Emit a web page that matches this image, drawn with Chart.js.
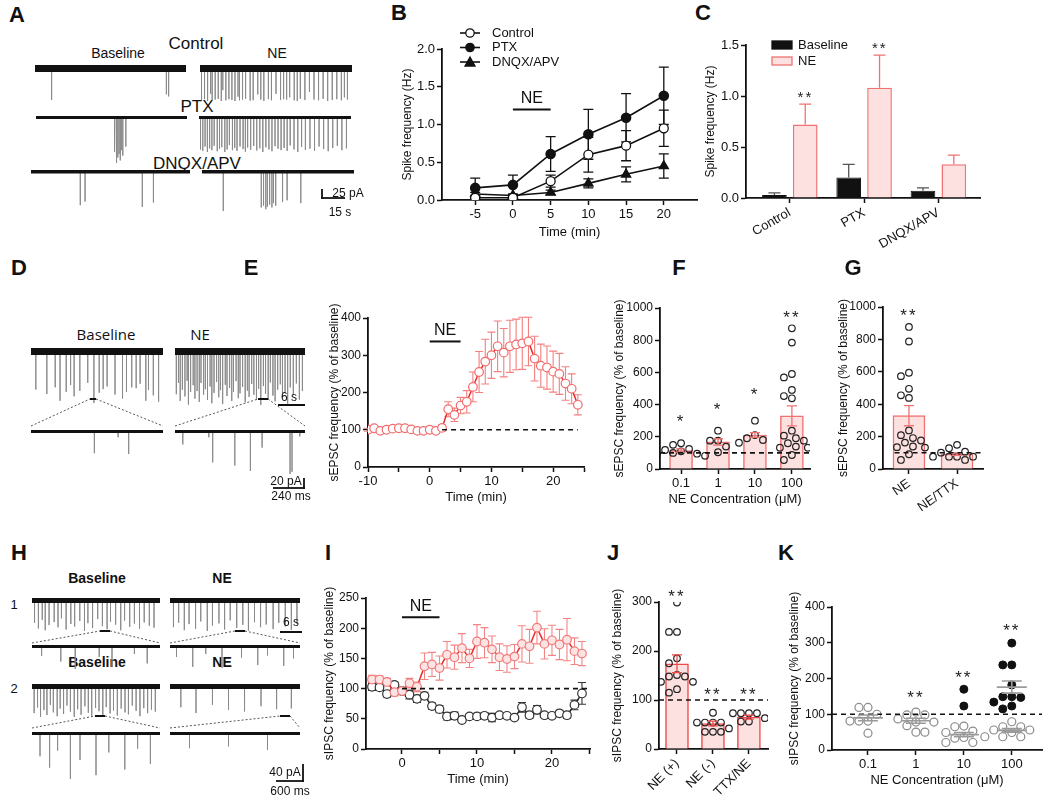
<!DOCTYPE html>
<html>
<head>
<meta charset="utf-8">
<title>NE effects</title>
<script src="https://cdn.jsdelivr.net/npm/chart.js@4.4.1/dist/chart.umd.min.js"></script>
<style>
  body { margin: 0; background: #fff; }
  #fig { position: relative; width: 1050px; height: 800px; overflow: hidden; background: #fff;
         font-family: 'Liberation Sans', Arial, sans-serif; color: #111; }
  #fig canvas { position: absolute; }
  .t { position: absolute; white-space: nowrap; transform: translate(-50%, -50%); line-height: 1; }
  #ov { position: absolute; left: 0; top: 0; z-index: 5; }
</style>
</head>
<body>
<div id="fig"><svg id="ov" width="1050" height="800"></svg></div>
<script>
Chart.defaults.font.family = "'Liberation Sans', Arial, sans-serif";
Chart.defaults.font.size = 13;
Chart.defaults.color = '#111';

// ---------- A: example traces (spike time s, amplitude pA) ----------
const aCtrlBaseT = [11, 87, 88.5];
const aCtrlBaseA = [88, 72, 78];
const aCtrlNeT = [1, 3, 5, 7, 8, 10, 12, 14, 15, 17, 19, 21, 23, 25, 26, 28, 30, 33, 35, 38, 40, 42, 45, 47, 50, 53, 55, 57, 59, 62, 64, 66, 69, 72, 75, 78, 81, 84, 87, 90, 93, 95, 97];
const aCtrlNeA = [88, 85, 90, 70, 88, 86, 84, 90, 60, 88, 85, 87, 90, 78, 88, 86, 84, 89, 88, 72, 86, 90, 85, 88, 70, 87, 85, 86, 80, 88, 90, 84, 87, 65, 86, 88, 84, 90, 87, 85, 88, 80, 86];
const aPtxBaseT = [52, 53, 53.6, 54.2, 55, 55.8, 56.5, 57.5, 59.5];
const aPtxBaseA = [95, 120, 125, 110, 100, 118, 90, 105, 80];
const aPtxNeT = [1, 2.5, 4, 5.5, 7, 8.5, 10, 12, 13.5, 15, 17, 18.5, 20, 22, 23.5, 25, 27, 29, 30.5, 32, 34, 36, 38, 40, 42, 44, 46, 48, 50, 52, 54, 56, 58, 60, 62.5, 65, 67.5, 70, 73, 76, 79, 82, 85, 88, 91, 94, 97];
const aPtxNeA = [88, 92, 80, 95, 85, 90, 78, 93, 86, 82, 95, 88, 76, 90, 84, 92, 80, 87, 94, 83, 89, 78, 91, 85, 95, 82, 88, 93, 79, 86, 90, 84, 92, 77, 88, 95, 81, 89, 86, 92, 80, 87, 93, 84, 78, 90, 85];
const aDnqxBaseT = [31, 34, 70, 77];
const aDnqxBaseA = [92, 82, 97, 85];
const aDnqxNeT = [14, 39, 40.5, 42, 43, 44.5, 46, 47, 48.5, 53, 56, 65];
const aDnqxNeA = [110, 100, 95, 105, 98, 92, 100, 88, 95, 85, 80, 88];

// ---------- B: spike frequency time course ----------
const bTime = [-5, 0, 5, 10, 15, 20];
const bControl = [0.03, 0.03, 0.25, 0.6, 0.72, 0.95];
const bControlSem = [0.02, 0.02, 0.08, 0.23, 0.2, 0.24];
const bPtx = [0.16, 0.2, 0.61, 0.87, 1.09, 1.38];
const bPtxSem = [0.13, 0.13, 0.23, 0.33, 0.32, 0.38];
const bDnqx = [0.08, 0.06, 0.1, 0.22, 0.34, 0.45];
const bDnqxSem = [0.02, 0.02, 0.03, 0.06, 0.1, 0.16];

// ---------- C: spike frequency bars ----------
const cGroups = ['Control', 'PTX', 'DNQX/APV'];
const cBaseline = [0.03, 0.2, 0.07];
const cBaselineSem = [0.02, 0.13, 0.03];
const cNE = [0.72, 1.08, 0.33];
const cNESem = [0.2, 0.32, 0.09];
const cStars = ['**', '**', ''];

// ---------- D: sEPSC traces ----------
const dBaseT = [1.1, 3.6, 5.5, 6.6, 8.0, 9.0, 9.8, 11.1, 12.9, 14.3, 15.5, 16.4, 17.3, 19.1, 20.8, 21.7, 22.9, 23.9, 24.8, 26.1, 26.7, 27.8, 29.0];
const dBaseA = [85, 95, 80, 110, 90, 75, 100, 88, 70, 115, 92, 84, 78, 96, 105, 90, 80, 82, 72, 110, 86, 98, 112];
const dNeT = [0.3, 0.8, 1.2, 1.7, 2.3, 2.8, 3.1, 3.6, 4.2, 4.6, 5.1, 5.6, 6.0, 6.6, 7.0, 7.5, 8.1, 8.5, 9.0, 9.6, 10.1, 10.5, 11.0, 11.6, 12.0, 12.6, 13.1, 13.5, 14.1, 14.6, 15.0, 15.6, 16.2, 16.7, 17.1, 17.7, 18.2, 18.8, 19.3, 19.8, 20.4, 20.9, 21.5, 22.0, 22.6, 23.1, 23.7, 24.3, 24.8, 25.4, 26.0, 26.6, 27.3, 28.0, 28.7, 29.4];
const dNeA = [95, 70, 110, 85, 100, 65, 118, 90, 75, 105, 88, 112, 70, 96, 84, 108, 78, 115, 92, 68, 102, 86, 117, 74, 99, 81, 110, 90, 66, 104, 93, 79, 113, 87, 101, 72, 96, 108, 83, 119, 77, 94, 106, 69, 98, 111, 85, 73, 103, 90, 116, 80, 97, 71, 107, 88];
const dBaseZoomT = [0.48, 0.66, 0.74];
const dBaseZoomA = [49, 13, 51];
const dNeZoomT = [0.06, 0.26, 0.29, 0.46, 0.58, 0.67, 0.885, 0.9, 0.96];
const dNeZoomA = [29, 13, 69, 76, 88, 36, 95, 90, 11];

// ---------- E: sEPSC time course ----------
const eTime = [-10, -9, -8, -7, -6, -5, -4, -3, -2, -1, 0, 1, 2, 3, 4, 5, 6, 7, 8, 9, 10, 11, 12, 13, 14, 15, 16, 17, 18, 19, 20, 21, 22, 23, 24];
const eFreq = [100, 104, 97, 100, 103, 104, 104, 101, 97, 97, 100, 97, 105, 155, 140, 165, 175, 215, 255, 283, 300, 324, 307, 324, 329, 332, 337, 291, 272, 267, 256, 250, 224, 210, 167];
const eSem = [4, 5, 4, 4, 5, 4, 4, 4, 4, 4, 4, 4, 8, 20, 18, 22, 30, 40, 55, 60, 62, 68, 65, 70, 68, 70, 65, 60, 58, 58, 55, 55, 45, 40, 27];

// ---------- F: sEPSC vs NE concentration ----------
const fConc = ['0.1', '1', '10', '100'];
const fMean = [115, 168, 211, 330];
const fSem = [10, 20, 15, 62];
const fCells = [
  [160, 150, 125, 118, 110, 100, 95, 88, 82],
  [238, 176, 176, 139, 104],
  [300, 211, 191, 180, 163],
  [874, 785, 590, 569, 491, 453, 439, 238, 207, 191, 176, 160, 139, 132, 132, 87, 56]
];
const fStars = ['*', '*', '*', '**'];
const fStarY = [323, 397, 490, 968];

// ---------- G: NE vs NE/TTX ----------
const gGroups = ['NE', 'NE/TTX'];
const gMean = [329, 92];
const gSem = [62, 8];
const gCells = [
  [877, 787, 594, 573, 495, 455, 439, 238, 209, 191, 176, 163, 139, 135, 132, 91, 56],
  [149, 128, 107, 101, 76, 76, 76, 76, 56]
];
const gStars = ['**', ''];
const gStarY = [975, 0];

// ---------- H: sIPSC traces ----------
const h1BaseT = [0.6, 1.5, 2.4, 3.1, 4.0, 5.2, 6.1, 6.9, 8.0, 9.1, 10.0, 11.2, 12.3, 13.1, 14.2, 15.4, 16.5, 17.6, 18.4, 19.6, 20.8, 21.7, 22.9, 24.0, 25.2, 26.3, 27.5, 28.6];
const h1BaseA = [60, 75, 52, 80, 66, 58, 72, 48, 78, 63, 70, 55, 82, 61, 74, 50, 69, 77, 57, 65, 80, 54, 71, 62, 76, 59, 68, 73];
const h1NeT = [0.8, 2.0, 3.3, 4.4, 5.9, 7.1, 8.6, 9.8, 11.3, 12.6, 13.9, 15.4, 16.8, 18.1, 19.5, 20.9, 22.2, 23.8, 25.1, 26.6, 28.0, 29.3];
const h1NeA = [70, 58, 78, 62, 74, 55, 80, 66, 60, 76, 52, 72, 64, 79, 57, 70, 63, 75, 59, 68, 77, 61];
const h1BaseZoomT = [0.3, 0.9, 1.35, 2.1, 2.5, 3.2, 3.6];
const h1BaseZoomA = [25, 40, 60, 28, 55, 20, 45];
const h1NeZoomT = [0.2, 0.7, 1.1, 1.6, 2.2, 2.7, 3.0, 3.5, 3.8];
const h1NeZoomA = [28, 55, 20, 58, 30, 50, 24, 52, 32];
const h2BaseT = [0.5, 1.3, 2.0, 2.8, 3.5, 4.3, 5.0, 5.9, 6.6, 7.4, 8.2, 9.0, 9.9, 10.7, 11.5, 12.4, 13.2, 14.0, 14.9, 15.7, 16.6, 17.4, 18.3, 19.1, 20.0, 20.9, 21.8, 22.6, 23.5, 24.4, 25.3, 26.2, 27.1, 28.0, 28.9];
const h2BaseA = [70, 55, 80, 62, 75, 48, 68, 78, 58, 72, 50, 66, 80, 60, 74, 52, 69, 77, 56, 65, 79, 54, 71, 63, 76, 58, 68, 73, 50, 64, 78, 57, 70, 61, 66];
const h2NeT = [2.5, 6.0, 9.8, 13.5, 17.2, 21.0, 24.6, 28.0];
const h2NeA = [55, 70, 48, 62, 66, 52, 60, 58];
const h2BaseZoomT = [0.25, 0.55, 0.8, 1.2, 1.5, 2.0, 2.4, 2.9, 3.3, 3.7];
const h2BaseZoomA = [60, 90, 45, 120, 70, 110, 50, 95, 40, 80];
const h2NeZoomT = [0.6, 1.8, 3.0];
const h2NeZoomA = [40, 35, 45];

// ---------- I: sIPSC time course ----------
const iTime = [-4, -3, -2, -1, 0, 1, 2, 3, 4, 5, 6, 7, 8, 9, 10, 11, 12, 13, 14, 15, 16, 17, 18, 19, 20, 21, 22, 23, 24];
const iUp = [115, 115, 111, 94, 96, 109, 103, 137, 140, 134, 156, 152, 167, 150, 178, 176, 165, 152, 149, 153, 174, 170, 201, 174, 180, 173, 181, 162, 158];
const iUpSem = [7, 6, 6, 6, 6, 8, 8, 22, 20, 20, 22, 20, 24, 15, 28, 25, 22, 22, 22, 20, 30, 28, 27, 25, 25, 25, 35, 22, 20];
const iDown = [103, 102, 91, 106, 96, 90, 83, 88, 71, 66, 54, 55, 48, 54, 54, 55, 52, 56, 55, 52, 69, 56, 65, 56, 55, 59, 56, 73, 92];
const iDownSem = [6, 5, 5, 5, 5, 7, 6, 6, 5, 6, 6, 6, 4, 4, 5, 5, 7, 3, 3, 3, 8, 5, 7, 3, 4, 5, 5, 8, 18];

// ---------- J: sIPSC bars ----------
const jGroups = ['NE (+)', 'NE (-)', 'TTX/NE'];
const jMean = [174, 52, 65];
const jSem = [18, 5, 4];
const jCells = [
  [299, 239, 239, 185, 175, 151, 148, 148, 137, 137, 122, 115],
  [74, 54, 54, 54, 54, 42, 35, 35, 35],
  [73, 73, 73, 73, 63, 56, 56]
];
const jStarY = [320, 120, 120];

// ---------- K: sIPSC vs NE concentration ----------
const kConc = ['0.1', '1', '10', '100'];
const kOpen = [
  [119, 119, 100, 81, 81, 81, 47],
  [106, 98, 98, 87, 78, 78, 68, 50, 50],
  [67, 65, 53, 49, 35, 33, 21, 21],
  [79, 65, 65, 56, 56, 49, 37, 37, 37]
];
const kFilled = [[], [], [170, 123], [299, 238, 238, 182, 149, 149, 147, 134, 123, 115]];
const kOpenMean = [90, 82, 43, 55];
const kOpenSem = [8, 7, 6, 5];
const kFilledMean = [null, null, null, 176];
const kFilledSem = [null, null, null, 17];
const kStarY = [null, 159, 215, 347];

// ================= helpers =================
const fig = document.getElementById('fig');
const ov = document.getElementById('ov');
const xy = (xs, ys) => xs.map((x, i) => ({ x: x, y: ys[i] }));

function addCanvas(x, y, w, h) {
  const c = document.createElement('canvas');
  c.width = Math.round(w); c.height = Math.round(h);
  c.style.left = Math.round(x) + 'px'; c.style.top = Math.round(y) + 'px';
  fig.appendChild(c);
  return c;
}
function addText(txt, x, y, css) {
  const d = document.createElement('div');
  d.className = 't'; d.textContent = txt;
  d.style.left = x + 'px'; d.style.top = y + 'px';
  Object.assign(d.style, css || {});
  fig.appendChild(d);
}
function letter(l, x, y) { addText(l, x, y, { fontWeight: 'bold', fontSize: '22px' }); }
function seg(x1, y1, x2, y2, w, dash) {
  const l = document.createElementNS('http://www.w3.org/2000/svg', 'line');
  l.setAttribute('x1', x1); l.setAttribute('y1', y1); l.setAttribute('x2', x2); l.setAttribute('y2', y2);
  l.setAttribute('stroke', dash ? '#555' : '#111'); l.setAttribute('stroke-width', w);
  if (dash) l.setAttribute('stroke-dasharray', dash);
  ov.appendChild(l);
}

// beeswarm offsets (in x data units) so dots do not overlap
function swarm(vals, yPx, xPx, dot) {
  const placed = [];
  return vals.map(v => {
    for (let k = 0; k < 60; k++) {
      const o = (k % 2 ? -1 : 1) * Math.ceil(k / 2) * dot * 0.5;
      if (placed.every(p => Math.hypot((p.v - v) * yPx, p.o - o) >= dot)) {
        placed.push({ v: v, o: o });
        return o / xPx;
      }
    }
    return 0;
  });
}
function swarmPts(g, vals, yPx, xPx, dot) {
  const offs = swarm(vals, yPx, xPx, dot);
  return vals.map((v, i) => ({ x: g + offs[i], y: v }));
}

function axis(dir, s, size) {
  return {
    type: 'linear', min: s.min, max: s.max, offset: false,
    afterBuildTicks: sc => { sc.ticks = s.ticks.map(v => ({ value: v })); },
    afterFit: sc => { if (dir === 'x') sc.height = size; else sc.width = size; },
    grid: { display: true, drawOnChartArea: false, drawTicks: true, tickLength: 5, tickWidth: 1.5, color: '#111', offset: false },
    border: { display: true, color: '#111', width: 1.8 },
    ticks: {
      autoSkip: false, maxRotation: s.rot || 0, minRotation: s.rot || 0, padding: 2, color: '#111',
      font: { size: s.fsize || 13 },
      callback: (v, i) => s.labels ? s.labels[i] : v
    },
    title: { display: !!s.title, text: s.title, color: '#111', font: { size: s.tsize || 13 }, padding: { top: 2, bottom: 2 } }
  };
}

function deco(d) {
  const drawErr = (chart, when) => {
    const ctx = chart.ctx, ys = chart.scales.y;
    (d.err || []).forEach(e => {
      if ((e.when || 'before') !== when) return;
      const meta = chart.getDatasetMeta(e.ds);
      ctx.save();
      ctx.strokeStyle = e.color; ctx.lineWidth = e.width || 1.3;
      meta.data.forEach((el, j) => {
        const s = e.sem[j];
        if (s == null) return;
        const v = meta.controller.getParsed(j).y;
        const x = el.x;
        const yt = ys.getPixelForValue(v + s), yb = ys.getPixelForValue(e.up ? v : v - s);
        ctx.beginPath();
        ctx.moveTo(x, yt); ctx.lineTo(x, yb);
        ctx.moveTo(x - e.cap, yt); ctx.lineTo(x + e.cap, yt);
        if (!e.up) { ctx.moveTo(x - e.cap, yb); ctx.lineTo(x + e.cap, yb); }
        ctx.stroke();
      });
      ctx.restore();
    });
  };
  return {
    id: 'deco',
    beforeDatasetsDraw(chart) { drawErr(chart, 'before'); },
    afterDatasetsDraw(chart) {
      drawErr(chart, 'after');
      const ctx = chart.ctx, xs = chart.scales.x, ys = chart.scales.y, ca = chart.chartArea;
      ctx.save();
      (d.hlines || []).forEach(h => {
        ctx.strokeStyle = h.color || '#111'; ctx.lineWidth = h.width || 1.6;
        ctx.setLineDash(h.dash || []);
        ctx.beginPath();
        ctx.moveTo(xs.getPixelForValue(h.x1), ys.getPixelForValue(h.y));
        ctx.lineTo(xs.getPixelForValue(h.x2), ys.getPixelForValue(h.y));
        ctx.stroke();
      });
      ctx.setLineDash([]);
      if (d.ne) {
        const n = d.ne;
        ctx.strokeStyle = '#111'; ctx.lineWidth = 2;
        ctx.beginPath();
        ctx.moveTo(xs.getPixelForValue(n.x1), ys.getPixelForValue(n.y));
        ctx.lineTo(xs.getPixelForValue(n.x2), ys.getPixelForValue(n.y));
        ctx.stroke();
        ctx.fillStyle = '#111'; ctx.font = '16px "Liberation Sans", Arial, sans-serif';
        ctx.textAlign = 'center'; ctx.textBaseline = 'bottom';
        ctx.fillText('NE', xs.getPixelForValue((n.x1 + n.x2) / 2), ys.getPixelForValue(n.y) - 3);
      }
      (d.means || []).forEach(m => {
        if (m.y == null) return;
        ctx.strokeStyle = m.color; ctx.lineWidth = 1.6;
        const x = xs.getPixelForValue(m.x);
        const y = ys.getPixelForValue(m.y), yt = ys.getPixelForValue(m.y + m.sem), yb = ys.getPixelForValue(m.y - m.sem);
        ctx.beginPath();
        ctx.moveTo(x - m.half, y); ctx.lineTo(x + m.half, y);
        ctx.moveTo(x - m.cap, yt); ctx.lineTo(x + m.cap, yt);
        ctx.moveTo(x - m.cap, yb); ctx.lineTo(x + m.cap, yb);
        ctx.moveTo(x, yt); ctx.lineTo(x, yb);
        ctx.stroke();
      });
      (d.stars || []).forEach(s => {
        if (!s.text || s.y == null) return;
        ctx.fillStyle = '#222'; ctx.font = (s.size || 17) + 'px "Liberation Sans", Arial, sans-serif';
        ctx.letterSpacing = '2px';
        ctx.textAlign = 'center'; ctx.textBaseline = 'middle';
        ctx.fillText(s.text, xs.getPixelForValue(s.x), ys.getPixelForValue(s.y) + (s.size || 17) * 0.3);
        ctx.letterSpacing = '0px';
      });
      if (d.legend) {
        const L = d.legend;
        ctx.font = '13px "Liberation Sans", Arial, sans-serif';
        ctx.textAlign = 'left'; ctx.textBaseline = 'middle';
        L.items.forEach((it, i) => {
          const x = ca.left + L.x, y = ca.top + L.y + i * L.gap;
          if (it.kind === 'box') {
            ctx.fillStyle = it.fill; ctx.strokeStyle = it.stroke; ctx.lineWidth = 1.3;
            ctx.fillRect(x, y - 4, 20, 8); ctx.strokeRect(x, y - 4, 20, 8);
            ctx.fillStyle = '#111'; ctx.fillText(it.label, x + 26, y);
          } else {
            ctx.strokeStyle = '#111'; ctx.lineWidth = 1.6;
            ctx.beginPath(); ctx.moveTo(x, y); ctx.lineTo(x + 20, y); ctx.stroke();
            ctx.fillStyle = it.fill; ctx.lineWidth = 1.3;
            ctx.beginPath();
            if (it.kind === 'tri') { ctx.moveTo(x + 10, y - 5); ctx.lineTo(x + 15, y + 4); ctx.lineTo(x + 5, y + 4); ctx.closePath(); }
            else ctx.arc(x + 10, y, 4.2, 0, Math.PI * 2);
            ctx.fill(); ctx.stroke();
            ctx.fillStyle = '#111'; ctx.fillText(it.label, x + 32, y);
          }
        });
      }
      ctx.restore();
    }
  };
}

function panel(box, m, type, datasets, sc, d) {
  const cv = addCanvas(box.l - m.l, box.t - m.t, box.r - box.l + m.l + m.r, box.b - box.t + m.t + m.b);
  return new Chart(cv, {
    type: type,
    data: { datasets: datasets },
    options: {
      animation: false, responsive: false, events: [],
      layout: { padding: { top: m.t, right: m.r, left: 0, bottom: 0 } },
      plugins: { legend: { display: false }, tooltip: { enabled: false } },
      scales: { x: axis('x', sc.x, m.b), y: axis('y', sc.y, m.l) }
    },
    plugins: [deco(d || {})]
  });
}

function spikes(times, amps) {
  const pts = [];
  times.forEach((t, i) => { pts.push({ x: t, y: 0 }, { x: t, y: -amps[i] }, { x: t, y: 0 }); });
  return pts;
}
function trace(x0, x1, y, dur, ppu, times, amps, band) {
  const up = band / 2 + 2;
  const down = Math.max(...amps) * ppu + 3;
  const cv = addCanvas(x0, y - up, x1 - x0, up + down);
  new Chart(cv, {
    type: 'line',
    data: { datasets: [
      { data: [{ x: 0, y: 0 }, { x: dur, y: 0 }], borderColor: '#111', borderWidth: band, pointRadius: 0, borderCapStyle: 'butt' },
      { data: spikes(times, amps), borderColor: '#8a8a8a', borderWidth: 1, pointRadius: 0 }
    ] },
    options: {
      animation: false, responsive: false, events: [],
      plugins: { legend: { display: false }, tooltip: { enabled: false } },
      layout: { padding: 0 },
      scales: {
        x: { type: 'linear', display: false, min: 0, max: dur },
        y: { type: 'linear', display: false, min: -down / ppu, max: up / ppu }
      }
    }
  });
}

const pink = '#fde0e0', pinkLine = '#f07272', red = '#ea2b2b';
const pctTitleS = 12, pctTickS = 12;

// ================= A =================
letter('A', 17, 15);
addText('Control', 196, 43, { fontSize: '17px' });
addText('Baseline', 118, 53, { fontSize: '14px' });
addText('NE', 277, 53, { fontSize: '14px' });
addText('PTX', 197, 106, { fontSize: '17px' });
addText('DNQX/APV', 197, 163, { fontSize: '17px' });
trace(35, 186, 68, 100, 0.36, aCtrlBaseT, aCtrlBaseA, 7);
trace(200, 352, 68, 100, 0.36, aCtrlNeT, aCtrlNeA, 7);
trace(36, 187, 117, 100, 0.36, aPtxBaseT, aPtxBaseA, 3);
trace(199, 351, 117, 100, 0.36, aPtxNeT, aPtxNeA, 3);
trace(31, 190, 172, 100, 0.36, aDnqxBaseT, aDnqxBaseA, 3.5);
trace(202, 354, 172, 100, 0.36, aDnqxNeT, aDnqxNeA, 3.5);
seg(322, 189, 322, 199, 1.8); seg(321, 198, 345, 198, 1.8);
addText('25 pA', 348, 193, { fontSize: '12px' });
addText('15 s', 340, 212, { fontSize: '12px' });

// ================= B =================
letter('B', 399, 13);
panel({ l: 442, t: 49, r: 697, b: 200 }, { l: 44, t: 22, r: 8, b: 42 }, 'line', [
  { data: xy(bTime, bControl), borderColor: '#111', borderWidth: 1.6, pointRadius: 4.5, pointBackgroundColor: '#fff', pointBorderColor: '#111', pointBorderWidth: 1.3 },
  { data: xy(bTime, bPtx), borderColor: '#111', borderWidth: 1.6, pointRadius: 4.5, pointBackgroundColor: '#111', pointBorderColor: '#111' },
  { data: xy(bTime, bDnqx), borderColor: '#111', borderWidth: 1.6, pointStyle: 'triangle', pointRadius: 5, pointBackgroundColor: '#111', pointBorderColor: '#111' }
], {
  x: { min: -9.4, max: 24.4, ticks: bTime, title: 'Time (min)' },
  y: { min: 0, max: 2, ticks: [0, 0.5, 1, 1.5, 2], labels: ['0.0', '0.5', '1.0', '1.5', '2.0'], title: 'Spike frequency (Hz)', tsize: 12 }
}, {
  err: [
    { ds: 0, sem: bControlSem, color: '#111', cap: 5 },
    { ds: 1, sem: bPtxSem, color: '#111', cap: 5 },
    { ds: 2, sem: bDnqxSem, color: '#111', cap: 5 }
  ],
  ne: { x1: 0, x2: 5, y: 1.2 },
  legend: { x: 18, y: -16, gap: 14.5, items: [
    { kind: 'circle', fill: '#fff', label: 'Control' },
    { kind: 'circle', fill: '#111', label: 'PTX' },
    { kind: 'tri', fill: '#111', label: 'DNQX/APV' }
  ] }
});

// ================= C =================
letter('C', 703, 13);
panel({ l: 746, t: 45, r: 980, b: 198 }, { l: 45, t: 22, r: 6, b: 60 }, 'bar', [
  { data: xy([0, 1, 2], cBaseline), backgroundColor: '#111', borderColor: '#111', borderWidth: 1, categoryPercentage: 0.83, barPercentage: 0.8 },
  { data: xy([0, 1, 2], cNE), backgroundColor: pink, borderColor: pinkLine, borderWidth: 1.5, categoryPercentage: 0.83, barPercentage: 0.8 }
], {
  x: { min: -0.59, max: 2.56, ticks: [0, 1, 2], labels: cGroups, rot: 30 },
  y: { min: 0, max: 1.5, ticks: [0, 0.5, 1, 1.5], labels: ['0.0', '0.5', '1.0', '1.5'], title: 'Spike frequency (Hz)', tsize: 12 }
}, {
  err: [
    { ds: 0, sem: cBaselineSem, color: '#555', cap: 6, up: true, when: 'after' },
    { ds: 1, sem: cNESem, color: pinkLine, cap: 6, up: true, when: 'after' }
  ],
  stars: cStars.map((s, i) => ({ x: i + 0.21, y: cNE[i] + cNESem[i] + 0.11, text: s, size: 15 })),
  legend: { x: 26, y: 0, gap: 16, items: [
    { kind: 'box', fill: '#111', stroke: '#111', label: 'Baseline' },
    { kind: 'box', fill: pink, stroke: pinkLine, label: 'NE' }
  ] }
});

// ================= D =================
letter('D', 19, 268);
addText('Baseline', 106, 334, { fontSize: '15px', fontFamily: "'Open Sans', sans-serif" });
addText('NE', 200, 334, { fontSize: '15px', fontFamily: "'Open Sans', sans-serif" });
trace(31, 163, 351, 30, 0.45, dBaseT, dBaseA, 7);
trace(175, 305, 351, 30, 0.45, dNeT, dNeA, 7);
seg(31, 426, 90, 399, 1, '2,2'); seg(90, 399, 96, 399, 2); seg(96, 399, 163, 426, 1, '2,2');
seg(175, 426, 258, 399, 1, '2,2'); seg(258, 399, 268, 399, 2); seg(268, 399, 305, 426, 1, '2,2');
trace(31, 163, 431, 1, 0.45, dBaseZoomT, dBaseZoomA, 3);
trace(175, 305, 431, 1, 0.45, dNeZoomT, dNeZoomA, 3);
seg(278, 405, 305, 405, 2);
addText('6 s', 289, 397, { fontSize: '12px' });
seg(304, 478, 304, 489, 1.8); seg(273, 488, 305, 488, 1.8);
addText('20 pA', 286, 481, { fontSize: '12px' });
addText('240 ms', 291, 496, { fontSize: '12px' });

// ================= E =================
letter('E', 251, 268);
panel({ l: 368, t: 318, r: 584, b: 467 }, { l: 43, t: 30, r: 6, b: 40 }, 'line', [
  { data: xy(eTime, eFreq), borderColor: red, borderWidth: 1.5, pointRadius: 4.3, pointBackgroundColor: '#fff', pointBorderColor: '#f26c6c', pointBorderWidth: 1.2 }
], {
  x: { min: -10, max: 25, ticks: [-10, -5, 0, 5, 10, 15, 20, 25], labels: ['-10', '', '0', '', '10', '', '20', ''], title: 'Time (min)' },
  y: { min: 0, max: 400, ticks: [0, 100, 200, 300, 400], title: 'sEPSC frequency (% of baseline)', tsize: pctTitleS, fsize: pctTickS }
}, {
  err: [{ ds: 0, sem: eSem, color: '#f48080', cap: 4, width: 1.1 }],
  hlines: [{ x1: 2, x2: 24, y: 100, dash: [5, 4] }],
  ne: { x1: 0, x2: 5, y: 337 }
});

// ================= F =================
letter('F', 679, 268);
panel({ l: 660, t: 308, r: 810, b: 469 }, { l: 50, t: 30, r: 6, b: 40 }, 'bar', [
  { data: xy([0, 1, 2, 3], fMean), backgroundColor: pink, borderColor: pinkLine, borderWidth: 1.5, barThickness: 23, order: 1 }
].concat(fCells.map((vals, g) => ({
  type: 'scatter', data: swarmPts(g, vals, 0.161, 37, 8), pointRadius: 3.3, pointBackgroundColor: 'rgba(0,0,0,0)',
  pointBorderColor: '#222', pointBorderWidth: 1.2, order: 0
}))), {
  x: { min: -0.57, max: 3.49, ticks: [0, 1, 2, 3], labels: fConc, title: 'NE Concentration (\u03bcM)' },
  y: { min: 0, max: 1000, ticks: [0, 200, 400, 600, 800, 1000], title: 'sEPSC frequency (% of baseline)', tsize: pctTitleS, fsize: pctTickS }
}, {
  err: [{ ds: 0, sem: fSem, color: pinkLine, cap: 5, when: 'after' }],
  hlines: [{ x1: -0.57, x2: 3.49, y: 100, dash: [5, 4] }],
  stars: fStars.map((s, i) => ({ x: i, y: fStarY[i], text: s }))
});

// ================= G =================
letter('G', 853, 268);
panel({ l: 883, t: 307, r: 983, b: 469 }, { l: 49, t: 30, r: 6, b: 50 }, 'bar', [
  { data: xy([0, 1], gMean), backgroundColor: pink, borderColor: pinkLine, borderWidth: 1.5, barThickness: 32, order: 1 }
].concat(gCells.map((vals, g) => ({
  type: 'scatter', data: swarmPts(g, vals, 0.162, 48, 8), pointRadius: 3.3, pointBackgroundColor: 'rgba(0,0,0,0)',
  pointBorderColor: '#222', pointBorderWidth: 1.2, order: 0
}))), {
  x: { min: -0.54, max: 1.54, ticks: [0, 1], labels: gGroups, rot: 35 },
  y: { min: 0, max: 1000, ticks: [0, 200, 400, 600, 800, 1000], title: 'sEPSC frequency (% of baseline)', tsize: pctTitleS, fsize: pctTickS }
}, {
  err: [{ ds: 0, sem: gSem, color: pinkLine, cap: 5, when: 'after' }],
  hlines: [{ x1: -0.3, x2: 1.54, y: 100, dash: [5, 4] }],
  stars: gStars.map((s, i) => ({ x: i, y: gStarY[i], text: s }))
});

// ================= H =================
letter('H', 19, 553);
addText('1', 14, 604, { fontSize: '13px' });
addText('2', 14, 688, { fontSize: '13px' });
addText('Baseline', 97, 578, { fontSize: '14px', fontWeight: 'bold' });
addText('NE', 222, 578, { fontSize: '14px', fontWeight: 'bold' });
addText('Baseline', 97, 662, { fontSize: '14px', fontWeight: 'bold' });
addText('NE', 222, 662, { fontSize: '14px', fontWeight: 'bold' });
trace(32, 160, 600, 30, 0.375, h1BaseT, h1BaseA, 5);
trace(170, 300, 600, 30, 0.375, h1NeT, h1NeA, 5);
seg(32, 643, 100, 631, 1, '2,2'); seg(100, 631, 110, 631, 2); seg(110, 631, 160, 643, 1, '2,2');
seg(170, 643, 235, 631, 1, '2,2'); seg(235, 631, 245, 631, 2); seg(245, 631, 300, 643, 1, '2,2');
trace(32, 160, 646, 4, 0.375, h1BaseZoomT, h1BaseZoomA, 3);
trace(170, 300, 646, 4, 0.375, h1NeZoomT, h1NeZoomA, 3);
seg(280, 632, 302, 632, 2);
addText('6 s', 291, 622, { fontSize: '12px' });
trace(32, 160, 686, 30, 0.375, h2BaseT, h2BaseA, 5);
trace(170, 300, 686, 30, 0.375, h2NeT, h2NeA, 5);
seg(32, 728, 95, 716, 1, '2,2'); seg(95, 716, 105, 716, 2); seg(105, 716, 160, 728, 1, '2,2');
seg(170, 728, 280, 716, 1, '2,2'); seg(280, 716, 290, 716, 2); seg(290, 716, 300, 728, 1, '2,2');
trace(32, 160, 733, 4, 0.375, h2BaseZoomT, h2BaseZoomA, 3);
trace(170, 300, 733, 4, 0.375, h2NeZoomT, h2NeZoomA, 3);
seg(303, 764, 303, 782, 1.8); seg(276, 781, 304, 781, 1.8);
addText('40 pA', 285, 772, { fontSize: '12px' });
addText('600 ms', 290, 791, { fontSize: '12px' });

// ================= I =================
letter('I', 328, 553);
panel({ l: 366, t: 598, r: 590, b: 749 }, { l: 46, t: 30, r: 6, b: 40 }, 'line', [
  { data: xy(iTime, iUp), borderColor: red, borderWidth: 1.5, pointRadius: 4.3, pointBackgroundColor: '#fde4e4', pointBorderColor: '#f27a7a', pointBorderWidth: 1.2 },
  { data: xy(iTime, iDown), borderColor: '#222', borderWidth: 1.5, pointRadius: 4.3, pointBackgroundColor: '#fff', pointBorderColor: '#333', pointBorderWidth: 1.2 }
], {
  x: { min: -4.8, max: 25.07, ticks: [0, 5, 10, 15, 20, 25], labels: ['0', '', '10', '', '20', ''], title: 'Time (min)' },
  y: { min: 0, max: 250, ticks: [0, 50, 100, 150, 200, 250], title: 'sIPSC frequency (% of baseline)', tsize: pctTitleS, fsize: pctTickS }
}, {
  err: [
    { ds: 0, sem: iUpSem, color: '#f48585', cap: 4, width: 1.1 },
    { ds: 1, sem: iDownSem, color: '#333', cap: 4, width: 1.1 }
  ],
  hlines: [{ x1: 0, x2: 25, y: 100, dash: [5, 4] }],
  ne: { x1: 0, x2: 5, y: 218 }
});

// ================= J =================
letter('J', 613, 553);
panel({ l: 659, t: 602, r: 768, b: 749 }, { l: 51, t: 30, r: 6, b: 50 }, 'bar', [
  { data: xy([0, 1, 2], jMean), backgroundColor: pink, borderColor: '#ef4a4a', borderWidth: 1.5, barThickness: 23, order: 1 }
].concat(jCells.map((vals, g) => ({
  type: 'scatter', data: swarmPts(g, vals, 0.491, 36, 8), pointRadius: 3.3, pointBackgroundColor: 'rgba(0,0,0,0)',
  pointBorderColor: '#222', pointBorderWidth: 1.2, order: 0
}))), {
  x: { min: -0.5, max: 2.53, ticks: [0, 1, 2], labels: jGroups, rot: 45 },
  y: { min: 0, max: 300, ticks: [0, 100, 200, 300], title: 'sIPSC frequency (% of baseline)', tsize: pctTitleS, fsize: pctTickS }
}, {
  err: [{ ds: 0, sem: jSem, color: '#ef4a4a', cap: 5, when: 'after' }],
  hlines: [{ x1: -0.5, x2: 2.53, y: 100, dash: [5, 4] }],
  stars: jStarY.map((y, i) => ({ x: i, y: y, text: '**' }))
});

// ================= K =================
letter('K', 786, 553);
panel({ l: 832, t: 607, r: 1042, b: 750 }, { l: 47, t: 30, r: 6, b: 40 }, 'scatter',
  kOpen.map((vals, g) => ({
    data: swarmPts(g, vals, 0.357, 48, 9), pointRadius: 4, pointBackgroundColor: '#fff',
    pointBorderColor: '#8a8a8a', pointBorderWidth: 1.2
  })).concat(kFilled.map((vals, g) => ({
    data: swarmPts(g, vals, 0.357, 48, 9), pointRadius: 4, pointBackgroundColor: '#111',
    pointBorderColor: '#111', pointBorderWidth: 1
  }))), {
  x: { min: -0.75, max: 3.63, ticks: [0, 1, 2, 3], labels: kConc, title: 'NE Concentration (\u03bcM)' },
  y: { min: 0, max: 400, ticks: [0, 100, 200, 300, 400], title: 'sIPSC frequency (% of baseline)', tsize: pctTitleS, fsize: pctTickS }
}, {
  hlines: [{ x1: -0.75, x2: 3.63, y: 100, dash: [5, 4] }],
  means: kOpenMean.map((y, i) => ({ x: i, y: y, sem: kOpenSem[i], half: 15, cap: 10, color: '#9a9a9a' }))
    .concat(kFilledMean.map((y, i) => ({ x: i, y: y, sem: kFilledSem[i], half: 15, cap: 10, color: '#9a9a9a' }))),
  stars: kStarY.map((y, i) => ({ x: i, y: y, text: '**' }))
});
</script>
</body>
</html>
